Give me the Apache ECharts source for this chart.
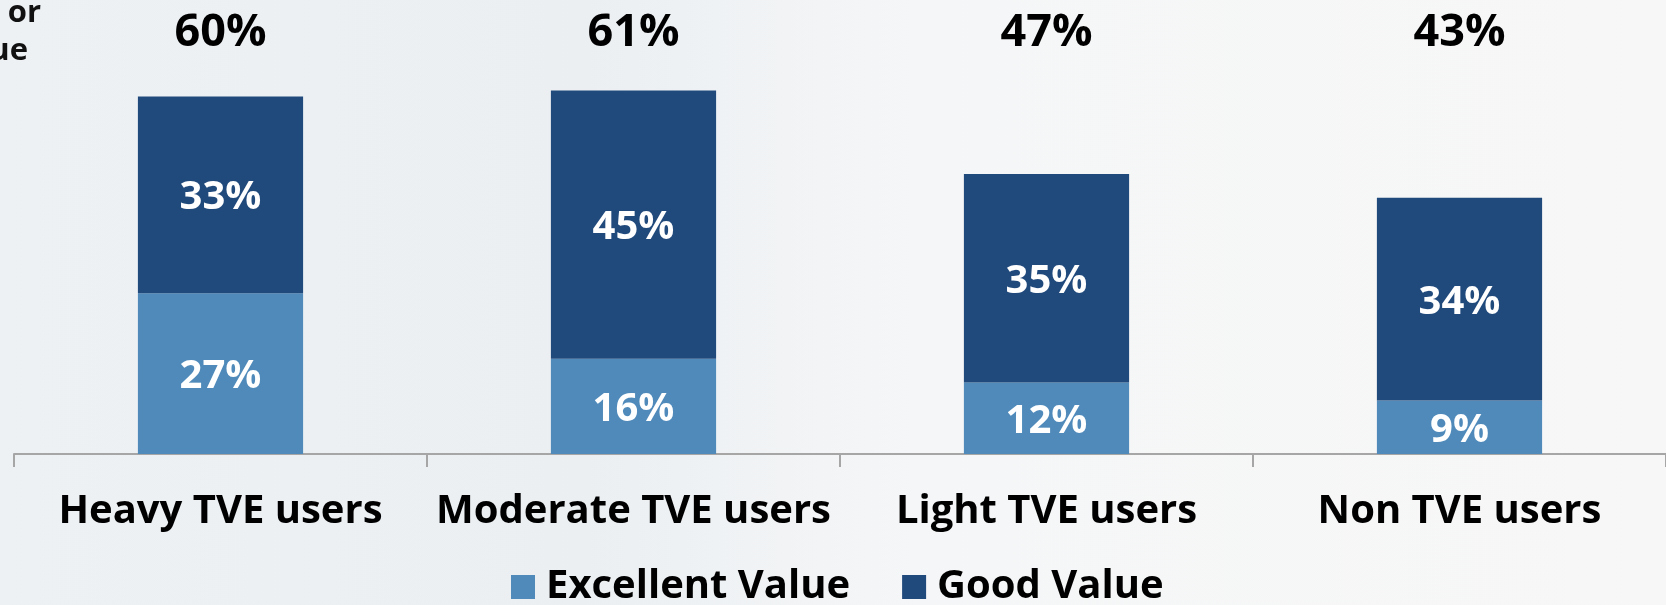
<!DOCTYPE html>
<html>
<head>
<meta charset="utf-8">
<script src="https://cdn.jsdelivr.net/npm/echarts@6/dist/echarts.min.js"></script>
<style>
  html, body { margin: 0; padding: 0; }
  #chart { width: 1666px; height: 605px; }
</style>
</head>
<body>
<div id="chart"></div>
<script>
// data
const categories = ['Heavy TVE users', 'Moderate TVE users', 'Light TVE users', 'Non TVE users']
const excellentValue = [27, 16, 12, 9]
const goodValue = [33, 45, 35, 34]
const totals = excellentValue.map((v, i) => v + goodValue[i])
const totalLabels = totals.map(t => t + '%')

const FONT = '"Open Sans", "Noto Sans", sans-serif'
const DARK = '#214a7c'
const LIGHT = '#4f8aba'

const chart = echarts.init(document.getElementById('chart'))

const insideLabel = {
  show: true,
  position: 'inside',
  offset: [0, 3],
  color: '#fff',
  fontFamily: FONT,
  fontWeight: 'bold',
  fontSize: 40,
  formatter: p => p.value + '%'
}

const option = {
  backgroundColor: {
    type: 'linear', x: 0, y: 0, x2: 1, y2: 0,
    colorStops: [
      { offset: 0, color: '#eef1f4' },
      { offset: 0.35, color: '#ebeff2' },
      { offset: 0.55, color: '#f5f6f7' },
      { offset: 1, color: '#f7f7f7' }
    ]
  },
  animation: false,
  graphic: [
    { type: 'text', x: 41, y: 13, style: { text: 'Excellent    or', font: 'bold 31px "Open Sans"', fill: '#111', textAlign: 'right', textVerticalAlign: 'middle' } },
    { type: 'text', x: 28, y: 51, style: { text: 'Good Value', font: 'bold 31px "Open Sans"', fill: '#111', textAlign: 'right', textVerticalAlign: 'middle' } }
  ],
  legend: {
    data: ['Excellent Value', 'Good Value'],
    left: 506,
    top: 562,
    itemWidth: 24,
    itemHeight: 24,
    itemGap: 52,
    icon: 'rect',
    textStyle: {
      fontFamily: FONT,
      fontWeight: 'bold',
      fontSize: 40,
      color: '#000',
      lineHeight: 30,
      padding: [0, 0, 0, 6]
    }
  },
  grid: {
    left: 14,
    right: 0,
    top: 37,
    bottom: 151
  },
  xAxis: [
    {
      type: 'category',
      data: categories,
      axisLine: { show: true, lineStyle: { color: '#a6a6a6', width: 2 } },
      axisTick: { show: true, length: 13, lineStyle: { color: '#a6a6a6', width: 2 } },
      axisLabel: {
        color: '#000',
        fontFamily: FONT,
        fontWeight: 'bold',
        fontSize: 40,
        margin: 58,
        verticalAlign: 'middle',
        interval: 0
      }
    },
    {
      type: 'category',
      position: 'top',
      data: totalLabels,
      axisLine: { show: false },
      axisTick: { show: false },
      axisLabel: {
        color: '#000',
        fontFamily: FONT,
        fontWeight: 'bold',
        fontSize: 45,
        margin: 4,
        verticalAlign: 'middle',
        interval: 0
      }
    }
  ],
  yAxis: {
    type: 'value',
    min: 0,
    max: 70,
    show: false,
    splitLine: { show: false }
  },
  series: [
    {
      name: 'Excellent Value',
      type: 'bar',
      stack: 'total',
      barWidth: '40%',
      itemStyle: { color: LIGHT },
      label: insideLabel,
      data: excellentValue
    },
    {
      name: 'Good Value',
      type: 'bar',
      stack: 'total',
      barWidth: '40%',
      itemStyle: { color: DARK },
      label: insideLabel,
      data: goodValue
    }
  ]
}

chart.setOption(option)
</script>
</body>
</html>
